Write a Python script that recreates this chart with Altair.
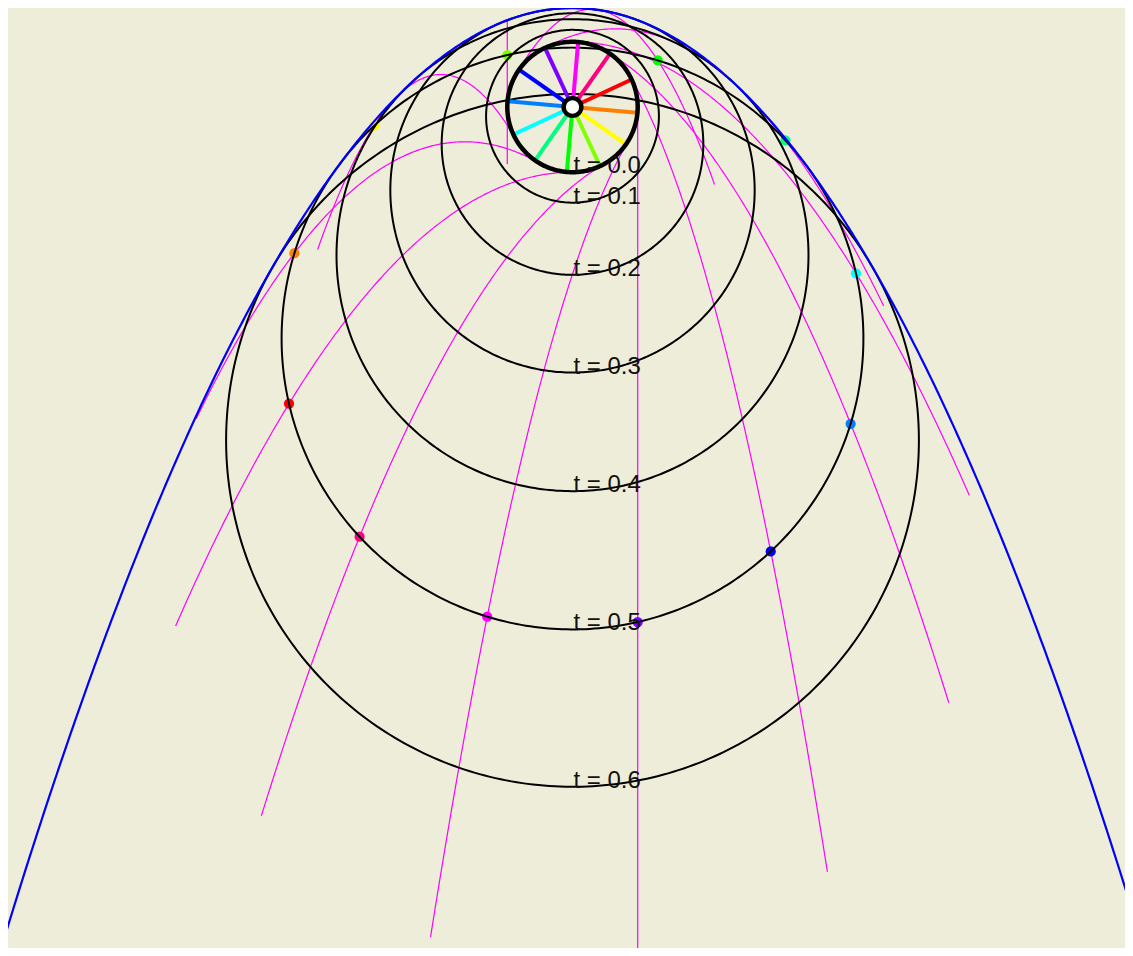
import numpy as np
import pandas as pd
import altair as alt

# ---- physical parameters of the diagram (metres, seconds) ----
WHEEL_R = 0.345      # wheel radius
SPEED = 3.0          # rim speed (clockwise)
GRAV = 9.8           # gravity
FLIGHT_TIME = 0.7    # length of each drawn droplet path
MARKER_TIME = 0.5    # time at which droplets are marked

# ---- data ----
circle_times = [0.0, 0.1, 0.2, 0.3, 0.4, 0.5, 0.6]
circle_labels = ["t = 0.0", "t = 0.1", "t = 0.2", "t = 0.3", "t = 0.4", "t = 0.5", "t = 0.6"]

drop_angles = [0, 30, 60, 90, 120, 150, 180, 210, 240, 270, 300, 330]
drop_colors = ["#8000FF", "#0000FF", "#0080FF", "#00FFFF", "#00FF80", "#00FF00",
               "#80FF00", "#FFFF00", "#FF8000", "#FF0000", "#FF0080", "#FF00FF"]

spoke_angles = [85, 55, 25, -5, -35, -65, -95, -125, -155, 175, 145, 115]
spoke_colors = ["#FF00FF", "#FF0080", "#FF0000", "#FF8000", "#FFFF00", "#80FF00",
                "#00FF00", "#00FF80", "#00FFFF", "#0080FF", "#0000FF", "#8000FF"]

# ---- view mapping ----
PX = 189.0
CX, CY = 572.5, 107.0
W, H = 1117, 940
x_dom = [(8 - CX) / PX, (8 + W - CX) / PX]
y_dom = [(CY - 8 - H) / PX, (CY - 8) / PX]
xs = alt.Scale(domain=x_dom, nice=False, zero=False)
ys = alt.Scale(domain=y_dom, nice=False, zero=False)


def drop_pos(theta_deg, tau):
    th = np.radians(theta_deg)
    x = WHEEL_R * np.cos(th) + SPEED * np.sin(th) * tau
    y = WHEEL_R * np.sin(th) - SPEED * np.cos(th) * tau - 0.5 * GRAV * tau ** 2
    return x, y


# trajectories
rows = []
tau = np.linspace(0, FLIGHT_TIME, 200)
for i, a in enumerate(drop_angles):
    x, y = drop_pos(a, tau)
    for k in range(len(tau)):
        rows.append({"id": i, "k": k, "x": x[k], "y": y[k]})
traj = pd.DataFrame(rows)

# circles of droplets at times t
rows = []
phi = np.linspace(0, 2 * np.pi, 400)
lab_rows = []
for i, t in enumerate(circle_times):
    r = np.sqrt(WHEEL_R ** 2 + (SPEED * t) ** 2)
    yc = -0.5 * GRAV * t ** 2
    for k in range(len(phi)):
        rows.append({"id": i, "k": k, "x": r * np.cos(phi[k]), "y": yc + r * np.sin(phi[k])})
    lab_rows.append({"x": 0.0, "y": yc - r, "label": circle_labels[i]})
circ = pd.DataFrame(rows)
circ_thin = circ[circ["id"] > 0]
rim = circ[circ["id"] == 0]
labels = pd.DataFrame(lab_rows)

# envelope
ex = np.linspace(x_dom[0] - 0.2, x_dom[1] + 0.2, 500)
ey = SPEED ** 2 / (2 * GRAV) + GRAV * WHEEL_R ** 2 / (2 * SPEED ** 2) - GRAV * ex ** 2 / (2 * SPEED ** 2)
env = pd.DataFrame({"x": ex, "y": ey, "k": np.arange(len(ex))})

# markers
mx, my = drop_pos(np.array(drop_angles), MARKER_TIME)
marks = pd.DataFrame({"x": mx, "y": my, "c": drop_colors})

# spokes
sa = np.radians(spoke_angles)
spokes = pd.DataFrame({"x": 0.0, "y": 0.0, "x2": WHEEL_R * np.cos(sa), "y2": WHEEL_R * np.sin(sa),
                       "c": spoke_colors})

hub = pd.DataFrame({"x": [0.0], "y": [0.0]})

X = alt.X("x:Q", scale=xs, axis=None)
Y = alt.Y("y:Q", scale=ys, axis=None)

traj_l = alt.Chart(traj).mark_line(color="#FF00FF", strokeWidth=1.2, clip=True).encode(
    x=X, y=Y, detail="id:N", order="k:Q")
mark_l = alt.Chart(marks).mark_circle(size=105, opacity=1).encode(
    x=X, y=Y, color=alt.Color("c:N", scale=None))
circ_l = alt.Chart(circ_thin).mark_line(color="black", strokeWidth=2, clip=True).encode(
    x=X, y=Y, detail="id:N", order="k:Q")
env_l = alt.Chart(env).mark_line(color="#0000FF", strokeWidth=2.2, clip=True).encode(
    x=X, y=Y, order="k:Q")
spoke_l = alt.Chart(spokes).mark_rule(strokeWidth=4).encode(
    x=X, y=Y, x2="x2:Q", y2="y2:Q", color=alt.Color("c:N", scale=None))
rim_l = alt.Chart(rim).mark_line(color="black", strokeWidth=4.5).encode(
    x=X, y=Y, order="k:Q")
hub_l = alt.Chart(hub).mark_point(shape="circle", filled=True, fill="white", stroke="black",
                                  strokeWidth=4.4, size=314, opacity=1).encode(x=X, y=Y)
text_l = alt.Chart(labels).mark_text(align="left", baseline="alphabetic", fontSize=24,
                                     font="Liberation Sans", color="#111111", dy=1, dx=1).encode(
    x=X, y=Y, text="label:N")

chart = alt.layer(traj_l, mark_l, circ_l, env_l, spoke_l, rim_l, hub_l, text_l).properties(
    width=W, height=H, background="#EEEDDA", padding=0, autosize=alt.AutoSizeParams(type="none")
).configure_view(stroke=None)

chart.save("out.html", embed_options={"renderer": "svg", "actions": False})
